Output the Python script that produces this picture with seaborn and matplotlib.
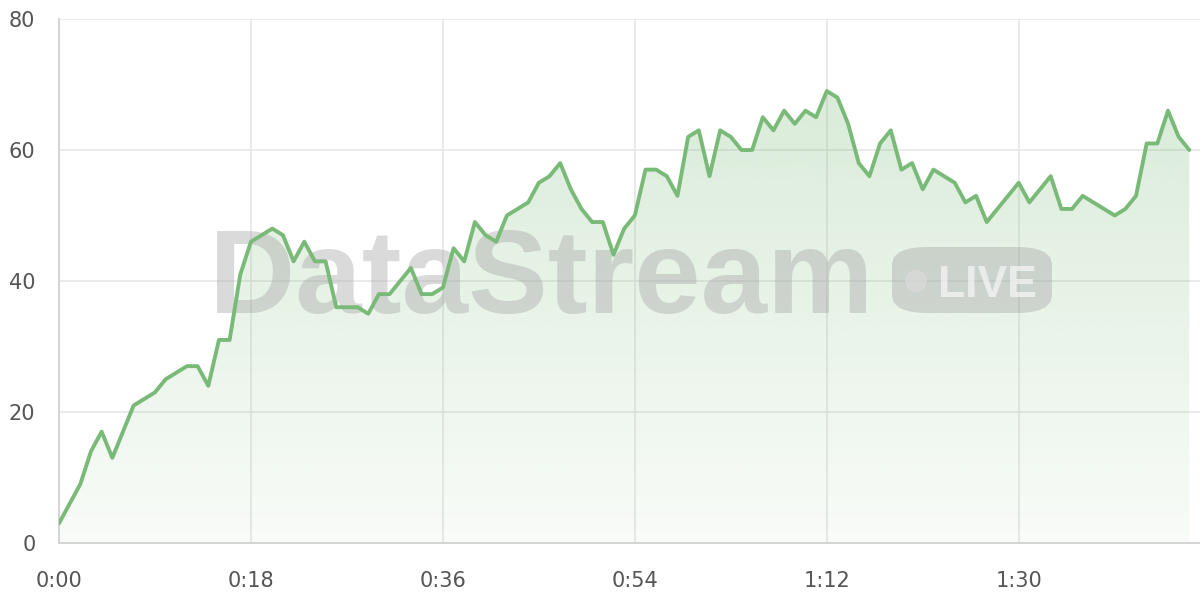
import numpy as np
import pandas as pd
import seaborn as sns
import matplotlib.pyplot as plt
from matplotlib.ticker import FuncFormatter, MultipleLocator
from matplotlib.patches import FancyBboxPatch, Circle

# seconds since start and the live value at each second
seconds = list(range(107))
values = [3, 6, 9, 14, 17, 13, 17, 21, 22, 23, 25, 26, 27, 27, 24, 31, 31, 41, 46, 47,
          48, 47, 43, 46, 43, 43, 36, 36, 36, 35, 38, 38, 40, 42, 38, 38, 39, 45, 43, 49,
          47, 46, 50, 51, 52, 55, 56, 58, 54, 51, 49, 49, 44, 48, 50, 57, 57, 56, 53, 62,
          63, 56, 63, 62, 60, 60, 65, 63, 66, 64, 66, 65, 69, 68, 64, 58, 56, 61, 63, 57,
          58, 54, 57, 56, 55, 52, 53, 49, 51, 53, 55, 52, 54, 56, 51, 51, 53, 52, 51, 50,
          51, 53, 61, 61, 66, 62, 60]
y_ticks = [0, 20, 40, 60, 80]

df = pd.DataFrame({'t': seconds, 'value': values})

sns.set_style('white')
plt.rcParams['font.family'] = ['DejaVu Sans']

line_col = '#7aba78'
grid_col = '#e6e6e6'

fig = plt.figure(figsize=(12, 6), dpi=100)
ax = fig.add_axes([59 / 1200, 57 / 600, 1 - 59 / 1200, 524 / 600])

# gradient fill under the line (image clipped to the area polygon)
poly = ax.fill_between(df['t'], df['value'], 0, color='none')
rgba = np.zeros((256, 1, 4))
rgba[..., 0] = 0x7a / 255
rgba[..., 1] = 0xba / 255
rgba[..., 2] = 0x78 / 255
rgba[..., 3] = np.linspace(0.28, 0.05, 256).reshape(-1, 1)
img = ax.imshow(rgba, extent=[0, max(seconds), 0, max(values)], aspect='auto',
                origin='upper', zorder=1)
img.set_clip_path(poly.get_paths()[0], transform=ax.transData)

sns.lineplot(data=df, x='t', y='value', ax=ax, color=line_col, linewidth=2.8, zorder=3)

ax.set_xlim(0, 107)
ax.set_ylim(0, 80)
ax.set_yticks(y_ticks)
ax.xaxis.set_major_locator(MultipleLocator(18))
ax.xaxis.set_major_formatter(FuncFormatter(lambda v, p: f'{int(v) // 60}:{int(v) % 60:02d}'))
ax.set_xlabel('')
ax.set_ylabel('')

ax.grid(True, color=grid_col, linewidth=1.2, zorder=0)
ax.set_axisbelow(True)
for s in ['top', 'right']:
    ax.spines[s].set_visible(False)
for s in ['left', 'bottom']:
    ax.spines[s].set_color('#d4d4d4')
    ax.spines[s].set_linewidth(1.4)
ax.tick_params(axis='both', length=11, color=grid_col, width=1.2, labelsize=15,
               labelcolor='#555555')
ax.tick_params(axis='y', pad=6)
ax.tick_params(axis='x', pad=9)

# watermark
ax.text(0.4225, 0.439, 'DataStream', transform=ax.transAxes, fontsize=86, fontweight='bold',
        family='Liberation Sans', color='#a8a8a8', alpha=0.42, ha='center', va='baseline',
        zorder=2)
badge = FancyBboxPatch((892 / 1200, (600 - 313) / 600), 160 / 1200, 66 / 600,
                       boxstyle='round,pad=0,rounding_size=0.03', transform=fig.transFigure,
                       facecolor='#a8a8a8', alpha=0.42, edgecolor='none', zorder=2)
fig.patches.append(badge)
dot = Circle((9.16, 3.19), 0.11, transform=fig.dpi_scale_trans,
             facecolor='white', alpha=0.7, edgecolor='none')
fig.patches.append(dot)
fig.text(987 / 1200, (600 - 297) / 600, 'LIVE', fontsize=32, fontweight='bold',
         family='Liberation Sans', color='white', alpha=0.6, ha='center', va='baseline')

fig.savefig('out.png', dpi=100)
